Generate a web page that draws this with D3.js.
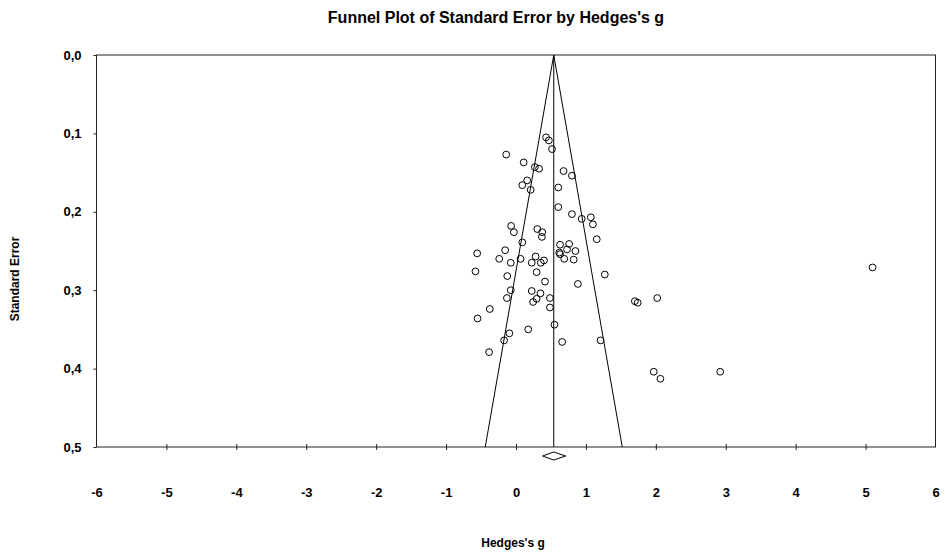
<!DOCTYPE html>
<html>
<head>
<meta charset="utf-8">
<script src="https://cdn.jsdelivr.net/npm/d3@7"></script>
<style>
  body { margin: 0; background: #fff; }
  svg text { font-family: "Liberation Sans", Arial, sans-serif; font-weight: bold; fill: #000; }
</style>
</head>
<body>
<svg id="chart" width="946" height="552"></svg>
<script>
// effect sizes (Hedges's g) and their standard errors
var hedgesG = [0.43, 0.47, 0.515, -0.14, 0.11, 0.27, 0.33, 0.68, 0.80, 0.16,
  0.09, 0.21, 0.605, 0.605, 0.80, 0.94, 1.07, 1.10, -0.07, -0.03,
  0.305, 0.375, 0.37, 0.09, 1.155, -0.555, -0.155, -0.24, -0.075, 0.63,
  0.76, 0.73, 0.62, 0.63, 0.85, 0.69, 0.825, 0.28, 0.40, 0.225,
  0.355, 0.065, -0.58, 0.295, -0.125, 0.415, 0.885, 1.27, -0.075, 0.225,
  0.35, -0.13, 0.295, 0.245, 0.485, 0.485, -0.375, -0.55, 0.55, 0.175,
  -0.095, -0.17, 0.66, 1.21, -0.385, 1.70, 1.74, 2.02, 1.97, 2.065,
  2.92, 5.10];
var stdError = [0.105, 0.109, 0.120, 0.127, 0.137, 0.143, 0.145, 0.148, 0.154, 0.160,
  0.166, 0.172, 0.169, 0.194, 0.203, 0.209, 0.207, 0.216, 0.218, 0.226,
  0.222, 0.226, 0.232, 0.239, 0.235, 0.253, 0.249, 0.260, 0.265, 0.242,
  0.241, 0.248, 0.252, 0.254, 0.250, 0.260, 0.261, 0.257, 0.262, 0.265,
  0.265, 0.260, 0.276, 0.277, 0.282, 0.289, 0.292, 0.280, 0.300, 0.301,
  0.304, 0.310, 0.311, 0.315, 0.310, 0.322, 0.324, 0.336, 0.344, 0.350,
  0.355, 0.364, 0.366, 0.364, 0.379, 0.314, 0.316, 0.310, 0.404, 0.413,
  0.404, 0.271];

var meanG = 0.54;           // combined effect
var ciG = [0.38, 0.71];     // confidence interval of the combined effect
var seMax = 0.5;

var xTicks = d3.range(-6, 7, 1);
var yTicks = [0, 0.1, 0.2, 0.3, 0.4, 0.5];

var svg = d3.select("#chart"),
    margin = {top: 55, right: 10.5, bottom: 105, left: 96.5},
    width = +svg.attr("width") - margin.left - margin.right,
    height = +svg.attr("height") - margin.top - margin.bottom;

var x = d3.scaleLinear().domain([-6, 6]).range([0, width]);
var y = d3.scaleLinear().domain([0, seMax]).range([0, height]);

var g = svg.append("g")
    .attr("transform", "translate(" + margin.left + "," + margin.top + ")");

var fmt = function(d) { return d3.format(".1f")(d).replace(".", ","); };

// frame
g.append("rect")
    .attr("x", 0).attr("y", 0)
    .attr("width", width).attr("height", height)
    .attr("fill", "none").attr("stroke", "#222").attr("stroke-width", 1);

// y axis
var yAxis = g.append("g")
    .attr("class", "axis axisy")
    .call(d3.axisLeft(y).tickValues(yTicks).tickSize(3).tickPadding(12).tickFormat(fmt));
yAxis.select(".domain").remove();
yAxis.selectAll("line").attr("stroke", "#222");
yAxis.selectAll("text").attr("font-size", 13);

// x axis (plain hyphen for negatives, like the original)
var xAxis = g.append("g")
    .attr("class", "axis axisx")
    .attr("transform", "translate(0," + height + ")")
    .call(d3.axisBottom(x).tickValues(xTicks).tickSize(3).tickFormat(function(d) { return String(d); }));
xAxis.select(".domain").remove();
xAxis.selectAll("line").attr("y1", -3).attr("y2", 3).attr("stroke", "#222");
xAxis.selectAll("text").attr("y", 41).attr("font-size", 13);
xAxis.selectAll(".tick").filter(function(d) { return d === -6 || d === 6; }).select("line").remove();

// funnel
var funnel = [[meanG - 1.96 * seMax, seMax], [meanG, 0], [meanG + 1.96 * seMax, seMax]];
g.append("path")
    .attr("d", d3.line().x(function(d) { return x(d[0]); }).y(function(d) { return y(d[1]); })(funnel))
    .attr("fill", "none").attr("stroke", "#000").attr("stroke-width", 1);
g.append("line")
    .attr("x1", x(meanG)).attr("x2", x(meanG))
    .attr("y1", y(0)).attr("y2", y(seMax))
    .attr("stroke", "#000").attr("stroke-width", 1);

// combined effect diamond under the axis
var dy = height + 9;
g.append("path")
    .attr("d", "M" + x(ciG[0]) + "," + dy + "L" + x(meanG) + "," + (dy - 4) +
               "L" + x(ciG[1]) + "," + dy + "L" + x(meanG) + "," + (dy + 4) + "Z")
    .attr("fill", "none").attr("stroke", "#000").attr("stroke-width", 1);

// studies
var pts = hedgesG.map(function(v, i) { return {g: v, se: stdError[i]}; });
g.selectAll("circle.study")
    .data(pts)
  .enter().append("circle")
    .attr("class", "study")
    .attr("cx", function(d) { return x(d.g); })
    .attr("cy", function(d) { return y(d.se); })
    .attr("r", 3.4)
    .attr("fill", "none").attr("stroke", "#000").attr("stroke-width", 1);

// titles
svg.append("text")
    .attr("x", 496).attr("y", 23)
    .attr("text-anchor", "middle")
    .attr("font-size", 16)
    .text("Funnel Plot of Standard Error by Hedges's g");

svg.append("text")
    .attr("transform", "translate(19,279) rotate(-90)")
    .attr("text-anchor", "middle")
    .attr("font-size", 12)
    .text("Standard Error");

svg.append("text")
    .attr("x", 513).attr("y", 547)
    .attr("text-anchor", "middle")
    .attr("font-size", 12)
    .text("Hedges's g");
</script>
</body>
</html>
